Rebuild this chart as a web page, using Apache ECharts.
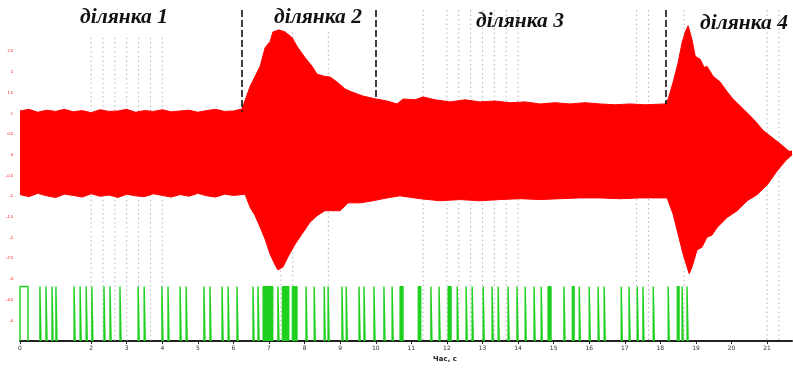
<!DOCTYPE html>
<html>
<head>
<meta charset="utf-8">
<script src="https://cdn.jsdelivr.net/npm/echarts@6/dist/echarts.min.js"></script>
<style>
html,body{margin:0;padding:0;background:#fff;}
#chart{width:793px;height:368px;}
</style>
</head>
<body>
<div id="chart"></div>
<script>
// ---- data (time in s, amplitude in relative units) ----
const upperT = [0,0.25,0.5,0.75,1,1.25,1.5,1.75,2,2.25,2.5,2.75,3,3.25,3.5,3.75,4,4.25,4.5,4.75,5,5.25,5.5,5.75,6,
  6.24,6.47,6.61,6.75,6.89,7.03,7.11,7.28,7.45,7.65,7.79,8.01,8.21,8.35,8.55,8.72,8.91,9.14,9.33,9.64,10.01,
  10.32,10.60,10.77,11.10,11.33,11.67,12.09,12.51,12.93,13.35,13.78,14.20,14.62,15.04,15.46,15.88,16.31,16.73,17.15,17.57,18.13,
  18.22,18.36,18.50,18.61,18.70,18.78,18.89,18.98,19.12,19.23,19.31,19.48,19.68,19.88,20.04,20.33,20.61,20.89,21.17,21.42,21.65,21.70];
const upperV = [1.06,1.10,1.03,1.08,1.05,1.10,1.04,1.07,1.02,1.09,1.05,1.06,1.10,1.03,1.07,1.05,1.09,1.04,1.06,1.08,1.03,1.07,1.10,1.05,1.06,
  1.11,1.66,1.90,2.14,2.59,2.74,2.97,3.02,2.97,2.83,2.62,2.35,2.14,1.95,1.90,1.88,1.76,1.59,1.52,1.42,1.35,
  1.30,1.23,1.35,1.33,1.40,1.33,1.28,1.33,1.28,1.30,1.26,1.28,1.23,1.26,1.23,1.26,1.23,1.21,1.23,1.21,1.23,
  1.35,1.76,2.23,2.71,2.97,3.12,2.78,2.38,2.31,2.11,2.14,1.90,1.76,1.52,1.35,1.11,0.87,0.59,0.40,0.23,0.06,0];
const lowerT = [0,0.25,0.5,0.75,1,1.25,1.5,1.75,2,2.25,2.5,2.75,3,3.25,3.5,3.75,4,4.25,4.5,4.75,5,5.25,5.5,5.75,6,
  6.24,6.33,6.47,6.61,6.75,6.89,7.03,7.17,7.25,7.39,7.53,7.73,7.96,8.15,8.35,8.57,9.00,9.22,9.56,9.92,10.32,10.68,
  11.25,11.81,12.37,12.93,13.49,14.06,14.62,15.18,15.74,16.31,16.87,17.43,18.19,
  18.36,18.50,18.64,18.75,18.81,18.89,19.03,19.17,19.31,19.45,19.60,19.88,20.16,20.44,20.72,21.00,21.28,21.51,21.70];
const lowerV = [-0.96,-1.01,-0.93,-0.99,-1.03,-0.95,-0.98,-1.02,-0.94,-1.00,-0.97,-1.03,-0.95,-0.99,-1.01,-0.94,-0.98,-1.02,-0.96,-1.00,-0.93,-0.99,-1.02,-0.95,-0.98,
  -0.96,-0.96,-1.27,-1.47,-1.75,-2.04,-2.40,-2.66,-2.78,-2.71,-2.47,-2.16,-1.87,-1.63,-1.47,-1.35,-1.35,-1.16,-1.16,-1.11,-1.04,-0.99,
  -1.06,-1.11,-1.08,-1.11,-1.08,-1.06,-1.08,-1.06,-1.04,-1.04,-1.06,-1.04,-1.04,
  -1.44,-1.92,-2.40,-2.71,-2.87,-2.71,-2.30,-2.23,-1.99,-1.94,-1.75,-1.51,-1.35,-1.11,-0.96,-0.73,-0.39,-0.15,0];

// control pulses (on / off instants)
const pulseOn  = [0,0.56,0.73,0.90,1.01,1.52,1.69,1.86,2.02,2.36,2.53,2.81,3.32,3.49,3.99,4.16,4.50,4.67,5.17,5.34,5.68,5.85,6.10,6.55,6.69,
  7.25,8.04,8.27,8.55,8.66,9.05,9.17,9.53,9.67,9.95,10.23,10.46,11.55,11.78,12.29,12.54,12.71,13.02,13.27,13.44,13.72,13.97,14.20,14.45,14.65,
  15.29,15.72,16.00,16.25,16.42,16.90,17.12,17.35,17.51,17.80,18.22,18.61,18.75];
const pulseOff = [0.225,0.59,0.76,0.93,1.04,1.55,1.72,1.89,2.05,2.39,2.56,2.84,3.35,3.52,4.02,4.19,4.53,4.70,5.20,5.37,5.71,5.88,6.13,6.58,6.72,
  7.28,8.07,8.30,8.58,8.69,9.08,9.20,9.56,9.70,9.98,10.26,10.49,11.58,11.81,12.32,12.57,12.74,13.05,13.30,13.47,13.75,14.00,14.23,14.48,14.68,
  15.32,15.75,16.03,16.28,16.45,16.93,17.15,17.38,17.54,17.83,18.25,18.64,18.78];
// dense pulse bursts
const burstOn  = [6.83,7.37,7.65,10.68,11.19,12.03,14.84,15.52,18.47];
const burstOff = [7.11,7.56,7.79,10.77,11.27,12.12,14.93,15.58,18.53];
const pulseLow = -4.5, pulseHigh = -3.18;

// section borders (time, top, bottom)
const borderT = [6.24,10.01,18.16];
const borderBottom = [1.04,1.35,1.23];
// dotted reference lines
const gridT = [2,2.333,2.667,3,3.333,3.667,4,7.333,7.667,8.667,11.333,12,12.333,12.667,13,13.333,13.667,14,17.333,17.667,18.667,21,21.333];
const gridTop = [2.83,2.83,2.83,2.83,2.83,2.83,2.83,2.97,2.97,2.97,3.5,3.5,3.5,3.5,3.5,3.5,3.5,3.5,3.5,3.5,3.5,3.5,3.5];

const sectionNames = ['ділянка 1','ділянка 2','ділянка 3','ділянка 4'];
const xTicks = [0,2,3,4,5,6,7,8,9,10,11,12,13,14,15,16,17,18,19,20,21];
const xName = 'Час, с';

// ---- build ----
const upperData = upperT.map((t,i)=>[t,upperV[i]]);
const lowerData = lowerT.map((t,i)=>[t,lowerV[i]]);
const pulseData = [];
pulseOn.forEach((t,i)=>{
  pulseData.push([t,pulseLow],[t,pulseHigh],[pulseOff[i],pulseHigh],[pulseOff[i],pulseLow],'-');
});
const burstData = [];
burstOn.forEach((t,i)=>{
  burstData.push([t,pulseLow],[t,pulseHigh],[burstOff[i],pulseHigh],[burstOff[i],pulseLow],'-');
});
const dottedData = [];
gridT.forEach((t,i)=>{ dottedData.push([t,gridTop[i]],[t,pulseLow],'-'); });
const borderLines = borderT.map((t,i)=>[{coord:[t,3.5]},{coord:[t,borderBottom[i]]}]);

const chart = echarts.init(document.getElementById('chart'), null, {renderer:'canvas'});
const labelFont = {fontFamily:'Liberation Serif', fontStyle:'italic', fontWeight:'bold', fontSize:21.5, fill:'#111'};
chart.setOption({
  animation:false,
  grid:{left:20,right:1,top:10,bottom:23},
  xAxis:{
    type:'value', min:0, max:21.7,
    axisLine:{onZero:false, lineStyle:{color:'#222', width:2}},
    axisTick:{customValues:xTicks, length:3, lineStyle:{color:'#222'}},
    axisLabel:{customValues:xTicks, fontSize:6, color:'#333', margin:4, fontFamily:'DejaVu Sans'},
    splitLine:{show:false},
    name:xName, nameLocation:'middle', nameGap:13,
    nameTextStyle:{fontSize:7, fontWeight:'bold', color:'#222', padding:[0,0,0,78], fontFamily:'DejaVu Sans'}
  },
  yAxis:{
    type:'value', min:-4.5, max:3.5, interval:0.5,
    axisLine:{show:false}, axisTick:{show:false}, splitLine:{show:false},
    axisLabel:{color:'#ff0000', fontSize:4, margin:7,
      formatter:v=> (v>2.5||v<-4)?'':String(v)}
  },
  series:[
    {type:'line', data:dottedData, symbol:'none', z:1, silent:true, connectNulls:false,
     lineStyle:{color:'#b5b5b5', width:1, type:[1.5,3]}},
    {type:'line', data:upperData, symbol:'none', z:2, silent:true,
     lineStyle:{color:'#ff0000', width:1}, areaStyle:{color:'#ff0000', opacity:1, origin:0}},
    {type:'line', data:lowerData, symbol:'none', z:2, silent:true,
     lineStyle:{color:'#ff0000', width:1}, areaStyle:{color:'#ff0000', opacity:1, origin:0.1}},
    {type:'line', data:pulseData, symbol:'none', z:3, silent:true, connectNulls:false,
     lineStyle:{color:'#1fd01f', width:1.4}},
    {type:'line', data:burstData, symbol:'none', z:3, silent:true, connectNulls:false,
     lineStyle:{color:'#1fd01f', width:1}, areaStyle:{color:'#1fd01f', opacity:1, origin:'start'}},
    {type:'line', data:[], z:4, silent:true,
     markLine:{silent:true, symbol:'none', label:{show:false},
       lineStyle:{color:'#111', width:1.6, type:[7,3]}, data:borderLines}}
  ],
  graphic:[
    {type:'text', left:80, top:6, style:Object.assign({text:sectionNames[0]}, labelFont)},
    {type:'text', left:274, top:6, style:Object.assign({text:sectionNames[1]}, labelFont)},
    {type:'text', left:476, top:10, style:Object.assign({text:sectionNames[2]}, labelFont)},
    {type:'text', left:700, top:12, style:Object.assign({text:sectionNames[3]}, labelFont)}
  ]
});
</script>
</body>
</html>
